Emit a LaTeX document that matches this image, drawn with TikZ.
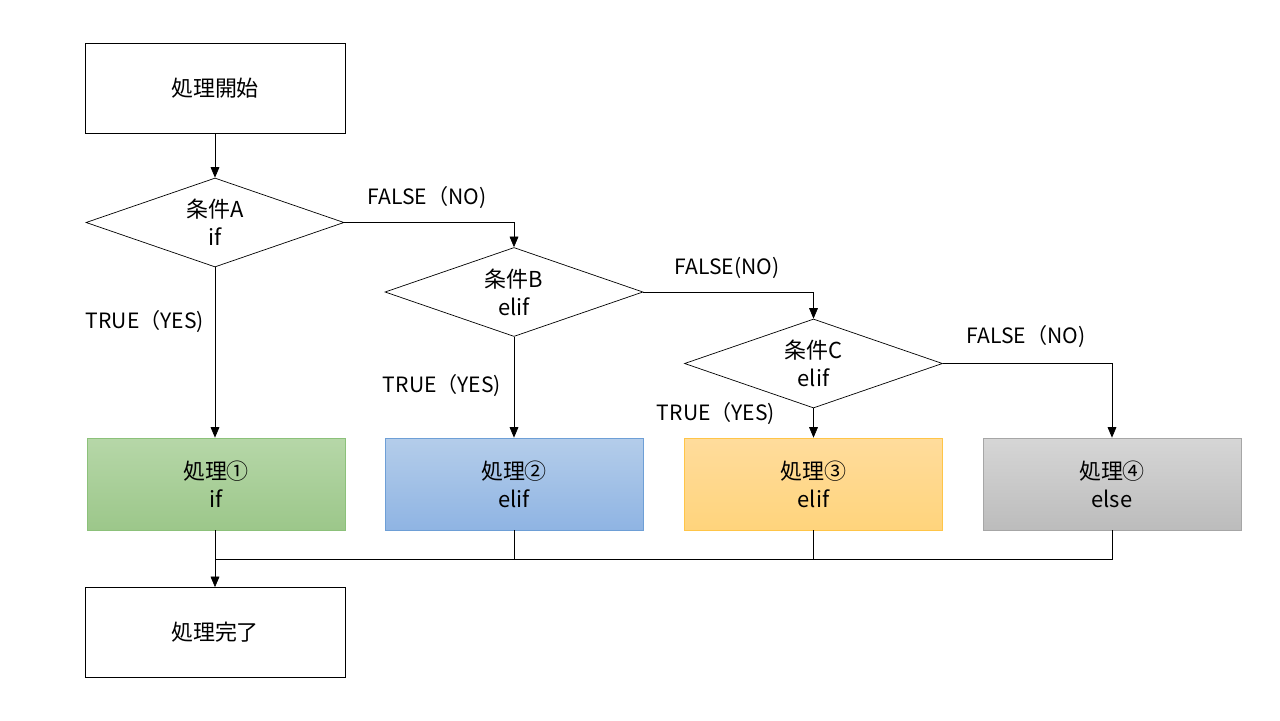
\documentclass[tikz,border=0pt]{standalone}
\usepackage{fontspec}
\setmainfont{Noto Sans CJK JP}
\usepackage{xcolor}
\definecolor{procgreentop}{HTML}{B6D7A8}
\definecolor{procgreenbot}{HTML}{9CC78A}
\definecolor{procgreenline}{HTML}{8CC17A}
\definecolor{procbluetop}{HTML}{B4CDEA}
\definecolor{procbluebot}{HTML}{8FB4E3}
\definecolor{procblueline}{HTML}{6E9FD6}
\definecolor{procyellowtop}{HTML}{FFDC9C}
\definecolor{procyellowbot}{HTML}{FFD47C}
\definecolor{procyellowline}{HTML}{FFC548}
\definecolor{procgraytop}{HTML}{D6D6D6}
\definecolor{procgraybot}{HTML}{BCBCBC}
\definecolor{procgrayline}{HTML}{A6A6A6}
\usetikzlibrary{positioning, shapes, shapes.geometric, arrows.meta}
\tikzset{
  termbox/.style={draw, thin, minimum width=5.2cm, minimum height=1.8cm, align=center, font=\fontsize{12.5}{16}\selectfont},
  condbox/.style={draw, thin, diamond, aspect=2.9, inner sep=0pt, minimum width=5.16cm, minimum height=1.78cm, align=center, font=\fontsize{12.5}{16}\selectfont},
  procbox/.style={draw=#1line, top color=#1top, bottom color=#1bot, minimum width=5.16cm, minimum height=1.84cm, align=center, font=\fontsize{12.5}{16}\selectfont},
  branchlabel/.style={font=\fontsize{12}{14}\selectfont, inner sep=0pt},
  arr/.style={thin, -{Triangle[length=6pt, width=5pt]}}
}

\begin{document}
\begin{tikzpicture}
            \useasboundingbox (0, 0) rectangle (25.6, -14.4);
            \node[termbox] (start) at (4.30, -1.76) {処理開始};
            \node[condbox] (condA) at (4.30, -4.45) {条件A\\if};
            \node[condbox] (condB) at (10.28, -5.84) {条件B\\elif};
            \node[condbox] (condC) at (16.27, -7.27) {条件C\\elif};
            \foreach \n/\x/\c/\t in {proc1/4.32/procgreen/{処理①\\if}, proc2/10.28/procblue/{処理②\\elif}, proc3/16.27/procyellow/{処理③\\elif}, proc4/22.24/procgray/{処理④\\else}}
                \node[procbox=\c] (\n) at (\x, -9.68) {\t};
            \node[termbox] (finish) at (4.30, -12.65) {処理完了};
            \coordinate (merge) at (4.30, -11.18);

            \draw[arr] (start) -- (condA);
            \draw[arr] (condA.east) -| (condB.north);
            \draw[arr] (condB.east) -| (condC.north);
            \draw[arr] (condC.east) -| (proc4.north);
            \draw[arr] (condA.south) -- (condA.south |- proc1.north);
            \draw[arr] (condB.south) -- (proc2.north);
            \draw[arr] (condC.south) -- (proc3.north);
            \draw[arr] (condA.south |- proc1.south) -- (finish.north);
            \draw[thin] (proc4.south) |- (merge);
            \draw[thin] (proc2.south) -- (proc2.south |- merge);
            \draw[thin] (proc3.south) -- (proc3.south |- merge);

            \node[branchlabel] (falseA) at (8.54, -3.96) {FALSE（NO)};
            \node[branchlabel] (falseB) at (14.54, -5.36) {FALSE(NO)};
            \node[branchlabel] (falseC) at (20.52, -6.74) {FALSE（NO)};
            \node[branchlabel] (trueA) at (2.90, -6.44) {TRUE（YES)};
            \node[branchlabel] (trueB) at (8.84, -7.72) {TRUE（YES)};
            \node[branchlabel] (trueC) at (14.32, -8.28) {TRUE（YES)};
        \end{tikzpicture}
\end{document}
